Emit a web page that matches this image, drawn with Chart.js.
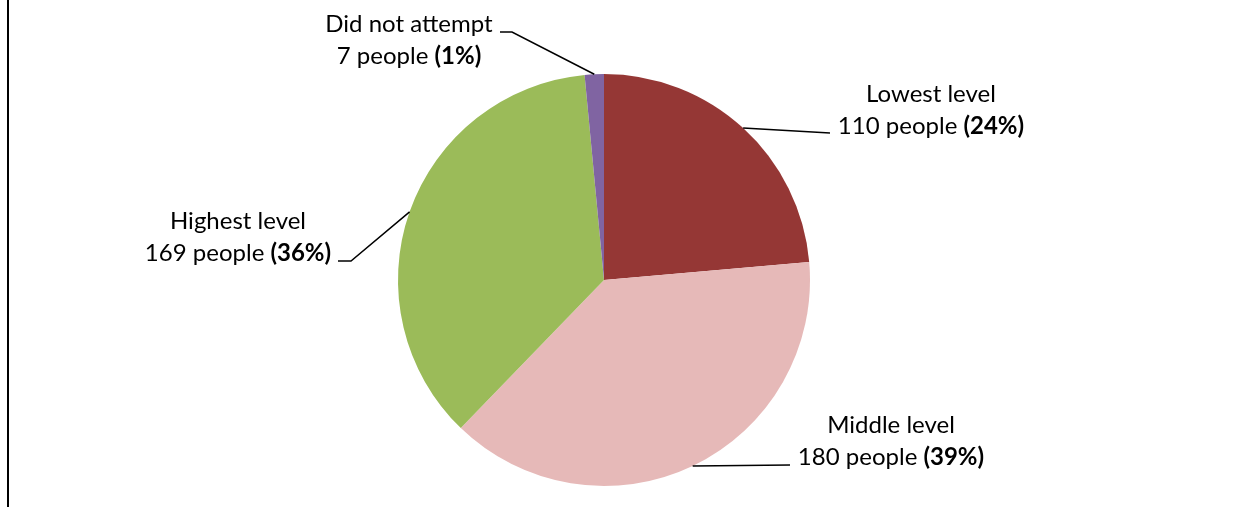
<!DOCTYPE html>
<html>
<head>
<meta charset="utf-8">
<script src="https://cdn.jsdelivr.net/npm/chart.js@4/dist/chart.umd.min.js"></script>
<style>
  html, body { margin: 0; padding: 0; background: #fff; }
  #wrap { width: 1247px; height: 507px; position: relative; }
</style>
</head>
<body>
<div id="wrap"><canvas id="myChart" width="1247" height="507"></canvas></div>
<script>
'use strict';

// data, clockwise from 12 o'clock
var labels = ['Lowest level', 'Middle level', 'Highest level', 'Did not attempt'];
var values = [110, 180, 169, 7];
var pctLabels = ['24%', '39%', '36%', '1%'];

var colorwheel = ['#953735', //dark red
                  '#E6B9B8', //pink
                  '#9BBB59', //green
                  '#8064A2'  //purple
                 ];

// where each label sits (line 1 baseline, centre x) and the bend of its leader line
var labelLayout = [
   { cx: 931, y: 102, bends: [[830, 133]] },
   { cx: 891, y: 433, bends: [[790, 465]] },
   { cx: 238, y: 229, bends: [[351, 261], [338, 261]] },
   { cx: 409, y: 32,  bends: [[512, 32], [500, 32]] }
];

var FONT = 'Lato, "Open Sans", sans-serif';
var FSIZE = 24;

var labelPlugin = {
   id: 'calloutLabels',
   afterDraw: function (chart) {
      var ctx = chart.ctx;
      var meta = chart.getDatasetMeta(0);
      ctx.save();

      //left frame line
      ctx.fillStyle = '#000';
      ctx.fillRect(7, 0, 2, 507);

      meta.data.forEach(function (arc, i) {
         var p = arc.getProps(['x', 'y', 'startAngle', 'endAngle', 'outerRadius'], true);
         var mid = (p.startAngle + p.endAngle) / 2;
         var ax = p.x + Math.cos(mid) * p.outerRadius;
         var ay = p.y + Math.sin(mid) * p.outerRadius;
         var lay = labelLayout[i];

         //leader line
         ctx.strokeStyle = '#000';
         ctx.lineWidth = 1.5;
         ctx.beginPath();
         ctx.moveTo(ax, ay);
         lay.bends.forEach(function (b) { ctx.lineTo(b[0], b[1]); });
         ctx.stroke();

         //text
         ctx.fillStyle = '#000';
         ctx.textBaseline = 'alphabetic';
         ctx.textAlign = 'center';
         ctx.font = FSIZE + 'px ' + FONT;
         ctx.fillText(labels[i], lay.cx, lay.y);

         var plain = values[i] + ' people ';
         var bold = '(' + pctLabels[i] + ')';
         ctx.font = FSIZE + 'px ' + FONT;
         var w1 = ctx.measureText(plain).width;
         ctx.font = 'bold ' + FSIZE + 'px ' + FONT;
         var w2 = ctx.measureText(bold).width;
         var x0 = lay.cx - (w1 + w2) / 2;
         var y2 = lay.y + 32;
         ctx.textAlign = 'left';
         ctx.font = FSIZE + 'px ' + FONT;
         ctx.fillText(plain, x0, y2);
         ctx.font = 'bold ' + FSIZE + 'px ' + FONT;
         ctx.fillText(bold, x0 + w1, y2);
      });
      ctx.restore();
   }
};

var ctx = document.getElementById('myChart').getContext('2d');
var myPieChart = new Chart(ctx, {
   type: 'pie',
   data: {
      labels: labels,
      datasets: [{
         data: values,
         backgroundColor: colorwheel,
         borderWidth: 0
      }]
   },
   options: {
      responsive: false,
      animation: false,
      layout: { padding: { top: 74, bottom: 21, left: 0, right: 39 } },
      plugins: {
         legend: { display: false },
         tooltip: { enabled: false }
      }
   },
   plugins: [labelPlugin]
});
</script>
</body>
</html>
